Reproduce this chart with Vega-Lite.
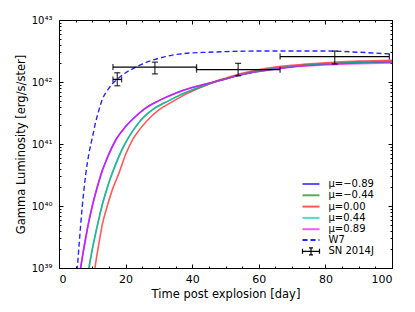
{
  "$schema": "https://vega.github.io/schema/vega-lite/v6.json",
  "width": 333,
  "height": 248,
  "autosize": "none",
  "padding": {"left": 59, "top": 20, "right": 23, "bottom": 44},
  "config": {
    "font": "DejaVu Sans",
    "view": {"stroke": "black", "strokeWidth": 1},
    "axis": {"grid": false, "domain": false, "tickColor": "black", "tickWidth": 1, "labelColor": "black", "titleColor": "black", "titleFontWeight": "normal"},
    "legend": {"labelFontSize": 10, "labelColor": "black", "symbolSize": 100, "rowPadding": 0.3, "labelOffset": 11.5, "title": null}
  },
  "datasets": {
    "curves": [
      {"s": "μ=−0.89", "d": 6, "L": 6.31e38}, {"s": "μ=−0.89", "d": 6.5, "L": 1.0e39}, {"s": "μ=−0.89", "d": 7, "L": 1.48e39}, {"s": "μ=−0.89", "d": 8, "L": 3.02e39}, {"s": "μ=−0.89", "d": 9, "L": 5.75e39}, {"s": "μ=−0.89", "d": 10, "L": 1.0e40}, {"s": "μ=−0.89", "d": 11, "L": 1.62e40}, {"s": "μ=−0.89", "d": 12, "L": 2.51e40}, {"s": "μ=−0.89", "d": 13, "L": 3.72e40}, {"s": "μ=−0.89", "d": 14, "L": 5.13e40}, {"s": "μ=−0.89", "d": 15, "L": 6.92e40}, {"s": "μ=−0.89", "d": 17, "L": 1.15e41}, {"s": "μ=−0.89", "d": 20, "L": 1.91e41}, {"s": "μ=−0.89", "d": 22.5, "L": 2.63e41}, {"s": "μ=−0.89", "d": 25.5, "L": 3.63e41}, {"s": "μ=−0.89", "d": 30, "L": 5.01e41}, {"s": "μ=−0.89", "d": 35, "L": 6.61e41}, {"s": "μ=−0.89", "d": 40, "L": 8.13e41}, {"s": "μ=−0.89", "d": 45, "L": 9.55e41}, {"s": "μ=−0.89", "d": 50, "L": 1.12e42}, {"s": "μ=−0.89", "d": 55, "L": 1.32e42}, {"s": "μ=−0.89", "d": 60, "L": 1.48e42}, {"s": "μ=−0.89", "d": 65, "L": 1.62e42}, {"s": "μ=−0.89", "d": 70, "L": 1.76e42}, {"s": "μ=−0.89", "d": 80, "L": 1.93e42}, {"s": "μ=−0.89", "d": 90, "L": 2.04e42}, {"s": "μ=−0.89", "d": 100, "L": 2.11e42},
      {"s": "μ=−0.44", "d": 8.5, "L": 6.31e38}, {"s": "μ=−0.44", "d": 9, "L": 1.0e39}, {"s": "μ=−0.44", "d": 10, "L": 2.0e39}, {"s": "μ=−0.44", "d": 11, "L": 3.63e39}, {"s": "μ=−0.44", "d": 12, "L": 6.31e39}, {"s": "μ=−0.44", "d": 13, "L": 1.05e40}, {"s": "μ=−0.44", "d": 14, "L": 1.62e40}, {"s": "μ=−0.44", "d": 15, "L": 2.40e40}, {"s": "μ=−0.44", "d": 16, "L": 3.39e40}, {"s": "μ=−0.44", "d": 18, "L": 6.31e40}, {"s": "μ=−0.44", "d": 20, "L": 1.05e41}, {"s": "μ=−0.44", "d": 22, "L": 1.58e41}, {"s": "μ=−0.44", "d": 24.5, "L": 2.40e41}, {"s": "μ=−0.44", "d": 28, "L": 3.55e41}, {"s": "μ=−0.44", "d": 33, "L": 5.01e41}, {"s": "μ=−0.44", "d": 36, "L": 6.03e41}, {"s": "μ=−0.44", "d": 40, "L": 7.41e41}, {"s": "μ=−0.44", "d": 45, "L": 9.33e41}, {"s": "μ=−0.44", "d": 50, "L": 1.12e42}, {"s": "μ=−0.44", "d": 55, "L": 1.32e42}, {"s": "μ=−0.44", "d": 60, "L": 1.51e42}, {"s": "μ=−0.44", "d": 65, "L": 1.66e42}, {"s": "μ=−0.44", "d": 70, "L": 1.78e42}, {"s": "μ=−0.44", "d": 80, "L": 1.95e42}, {"s": "μ=−0.44", "d": 90, "L": 2.07e42}, {"s": "μ=−0.44", "d": 100, "L": 2.14e42},
      {"s": "μ=0.00", "d": 10.3, "L": 6.31e38}, {"s": "μ=0.00", "d": 10.8, "L": 1.0e39}, {"s": "μ=0.00", "d": 12, "L": 2.51e39}, {"s": "μ=0.00", "d": 13, "L": 5.01e39}, {"s": "μ=0.00", "d": 14.5, "L": 1.0e40}, {"s": "μ=0.00", "d": 16, "L": 1.82e40}, {"s": "μ=0.00", "d": 18, "L": 3.39e40}, {"s": "μ=0.00", "d": 20, "L": 6.76e40}, {"s": "μ=0.00", "d": 22.2, "L": 1.20e41}, {"s": "μ=0.00", "d": 24, "L": 1.66e41}, {"s": "μ=0.00", "d": 26.5, "L": 2.40e41}, {"s": "μ=0.00", "d": 30, "L": 3.55e41}, {"s": "μ=0.00", "d": 34, "L": 4.79e41}, {"s": "μ=0.00", "d": 38, "L": 6.31e41}, {"s": "μ=0.00", "d": 42, "L": 7.94e41}, {"s": "μ=0.00", "d": 46, "L": 9.77e41}, {"s": "μ=0.00", "d": 50, "L": 1.15e42}, {"s": "μ=0.00", "d": 55, "L": 1.38e42}, {"s": "μ=0.00", "d": 60, "L": 1.58e42}, {"s": "μ=0.00", "d": 65, "L": 1.74e42}, {"s": "μ=0.00", "d": 70, "L": 1.86e42}, {"s": "μ=0.00", "d": 80, "L": 2.04e42}, {"s": "μ=0.00", "d": 90, "L": 2.17e42}, {"s": "μ=0.00", "d": 100, "L": 2.24e42},
      {"s": "μ=0.44", "d": 8.5, "L": 6.31e38}, {"s": "μ=0.44", "d": 9, "L": 1.0e39}, {"s": "μ=0.44", "d": 10, "L": 2.0e39}, {"s": "μ=0.44", "d": 11, "L": 3.63e39}, {"s": "μ=0.44", "d": 12, "L": 6.31e39}, {"s": "μ=0.44", "d": 13, "L": 1.05e40}, {"s": "μ=0.44", "d": 14, "L": 1.62e40}, {"s": "μ=0.44", "d": 15, "L": 2.40e40}, {"s": "μ=0.44", "d": 16, "L": 3.39e40}, {"s": "μ=0.44", "d": 18, "L": 6.31e40}, {"s": "μ=0.44", "d": 20, "L": 1.05e41}, {"s": "μ=0.44", "d": 22, "L": 1.58e41}, {"s": "μ=0.44", "d": 24.5, "L": 2.40e41}, {"s": "μ=0.44", "d": 28, "L": 3.55e41}, {"s": "μ=0.44", "d": 33, "L": 5.01e41}, {"s": "μ=0.44", "d": 36, "L": 6.03e41}, {"s": "μ=0.44", "d": 40, "L": 7.41e41}, {"s": "μ=0.44", "d": 45, "L": 9.33e41}, {"s": "μ=0.44", "d": 50, "L": 1.12e42}, {"s": "μ=0.44", "d": 55, "L": 1.32e42}, {"s": "μ=0.44", "d": 60, "L": 1.51e42}, {"s": "μ=0.44", "d": 65, "L": 1.66e42}, {"s": "μ=0.44", "d": 70, "L": 1.78e42}, {"s": "μ=0.44", "d": 80, "L": 1.95e42}, {"s": "μ=0.44", "d": 90, "L": 2.07e42}, {"s": "μ=0.44", "d": 100, "L": 2.14e42},
      {"s": "μ=0.89", "d": 6, "L": 6.31e38}, {"s": "μ=0.89", "d": 6.5, "L": 1.0e39}, {"s": "μ=0.89", "d": 7, "L": 1.48e39}, {"s": "μ=0.89", "d": 8, "L": 3.02e39}, {"s": "μ=0.89", "d": 9, "L": 5.75e39}, {"s": "μ=0.89", "d": 10, "L": 1.0e40}, {"s": "μ=0.89", "d": 11, "L": 1.62e40}, {"s": "μ=0.89", "d": 12, "L": 2.51e40}, {"s": "μ=0.89", "d": 13, "L": 3.72e40}, {"s": "μ=0.89", "d": 14, "L": 5.13e40}, {"s": "μ=0.89", "d": 15, "L": 6.92e40}, {"s": "μ=0.89", "d": 17, "L": 1.15e41}, {"s": "μ=0.89", "d": 20, "L": 1.91e41}, {"s": "μ=0.89", "d": 22.5, "L": 2.63e41}, {"s": "μ=0.89", "d": 25.5, "L": 3.63e41}, {"s": "μ=0.89", "d": 30, "L": 5.01e41}, {"s": "μ=0.89", "d": 35, "L": 6.61e41}, {"s": "μ=0.89", "d": 40, "L": 8.13e41}, {"s": "μ=0.89", "d": 45, "L": 9.55e41}, {"s": "μ=0.89", "d": 50, "L": 1.12e42}, {"s": "μ=0.89", "d": 55, "L": 1.32e42}, {"s": "μ=0.89", "d": 60, "L": 1.48e42}, {"s": "μ=0.89", "d": 65, "L": 1.62e42}, {"s": "μ=0.89", "d": 70, "L": 1.74e42}, {"s": "μ=0.89", "d": 80, "L": 1.88e42}, {"s": "μ=0.89", "d": 90, "L": 1.97e42}, {"s": "μ=0.89", "d": 100, "L": 2.02e42},
      {"s": "W7", "d": 5, "L": 5.01e38}, {"s": "W7", "d": 5.5, "L": 1.0e39}, {"s": "W7", "d": 6, "L": 2.24e39}, {"s": "W7", "d": 7, "L": 1.0e40}, {"s": "W7", "d": 8, "L": 3.16e40}, {"s": "W7", "d": 9, "L": 7.08e40}, {"s": "W7", "d": 10, "L": 1.26e41}, {"s": "W7", "d": 11, "L": 2.24e41}, {"s": "W7", "d": 12, "L": 3.55e41}, {"s": "W7", "d": 13, "L": 5.25e41}, {"s": "W7", "d": 14, "L": 6.61e41}, {"s": "W7", "d": 15, "L": 7.94e41}, {"s": "W7", "d": 16, "L": 9.33e41}, {"s": "W7", "d": 18, "L": 1.17e42}, {"s": "W7", "d": 20, "L": 1.41e42}, {"s": "W7", "d": 22, "L": 1.62e42}, {"s": "W7", "d": 25, "L": 1.95e42}, {"s": "W7", "d": 28, "L": 2.24e42}, {"s": "W7", "d": 32, "L": 2.57e42}, {"s": "W7", "d": 36, "L": 2.82e42}, {"s": "W7", "d": 40, "L": 2.95e42}, {"s": "W7", "d": 45, "L": 3.02e42}, {"s": "W7", "d": 50, "L": 3.09e42}, {"s": "W7", "d": 60, "L": 3.16e42}, {"s": "W7", "d": 70, "L": 3.16e42}, {"s": "W7", "d": 80, "L": 3.16e42}, {"s": "W7", "d": 90, "L": 3.02e42}, {"s": "W7", "d": 100, "L": 2.82e42}
    ],
    "obs": [
      {"s": "SN 2014J", "d": 17.5, "dlo": 16.2, "dhi": 18.8, "L": 1.10e42, "Llo": 8.7e41, "Lhi": 1.41e42},
      {"s": "SN 2014J", "d": 28.8, "dlo": 16.2, "dhi": 41.3, "L": 1.74e42, "Llo": 1.35e42, "Lhi": 2.09e42},
      {"s": "SN 2014J", "d": 53.8, "dlo": 41.3, "dhi": 66.4, "L": 1.58e42, "Llo": 1.26e42, "Lhi": 2.0e42},
      {"s": "SN 2014J", "d": 82.8, "dlo": 66.4, "dhi": 99.2, "L": 2.57e42, "Llo": 1.95e42, "Lhi": 3.16e42}
    ]
  },
  "resolve": {"axis": {"x": "independent", "y": "independent"}},
  "layer": [
    {
      "data": {"name": "curves"},
      "transform": [{"filter": "datum.s !== 'W7'"}],
      "mark": {"type": "line", "strokeWidth": 1.6, "opacity": 0.65, "clip": true, "interpolate": "monotone"},
      "encoding": {
        "x": {"field": "d", "type": "quantitative", "scale": {"domain": [0, 100], "nice": false}, "axis": {"orient": "bottom", "values": [0, 20, 40, 60, 80, 100], "tickSize": -4, "labelFontSize": 11, "labelPadding": 9, "title": "Time post explosion [day]", "titleFontSize": 11.5, "titlePadding": 4}},
        "y": {"field": "L", "type": "quantitative", "scale": {"type": "log", "domain": [1e39, 1e43], "nice": false}, "axis": {"orient": "left", "values": [1e39, 1e40, 1e41, 1e42, 1e43], "tickSize": -4, "labelFontSize": 10, "labelPadding": 11, "labelExpr": "datum.value < 5e39 ? '10³⁹' : datum.value < 5e40 ? '10⁴⁰' : datum.value < 5e41 ? '10⁴¹' : datum.value < 5e42 ? '10⁴²' : '10⁴³'", "title": "Gamma Luminosity [erg/s/ster]", "titleFontSize": 11.5, "titlePadding": 5}},
        "color": {"field": "s", "type": "nominal", "sort": null,
          "scale": {"domain": ["μ=−0.89", "μ=−0.44", "μ=0.00", "μ=0.44", "μ=0.89"], "range": ["#0000ff", "#008000", "#ff0000", "#00bfbf", "#ff00ff"]},
          "legend": {"orient": "none", "legendX": 246, "legendY": 158, "symbolType": "M-1.7,0H1.7", "symbolStrokeWidth": 2, "symbolOpacity": 0.65}
        }
      }
    },
    {
      "data": {"name": "curves"},
      "transform": [{"filter": "datum.s === 'W7'"}],
      "mark": {"type": "line", "strokeWidth": 1.4, "color": "#0000ff", "opacity": 0.85, "clip": true, "interpolate": "monotone"},
      "encoding": {
        "x": {"field": "d", "type": "quantitative", "axis": {"orient": "bottom", "values": [5, 10, 15, 25, 30, 35, 45, 50, 55, 65, 70, 75, 85, 90, 95], "tickSize": -2, "labels": false, "title": null}},
        "y": {"field": "L", "type": "quantitative", "axis": {"orient": "left", "values": [2e39, 3e39, 4e39, 5e39, 6e39, 7e39, 8e39, 9e39, 2e40, 3e40, 4e40, 5e40, 6e40, 7e40, 8e40, 9e40, 2e41, 3e41, 4e41, 5e41, 6e41, 7e41, 8e41, 9e41, 2e42, 3e42, 4e42, 5e42, 6e42, 7e42, 8e42, 9e42], "tickSize": -2, "labels": false, "title": null}},
        "strokeDash": {"field": "s", "type": "nominal", "scale": {"domain": ["W7"], "range": [[5, 3]]},
          "legend": {"orient": "none", "legendX": 246, "legendY": 214, "symbolType": "M-1.7,0H1.7", "symbolStrokeWidth": 2, "symbolStrokeColor": "#0000ff", "symbolOpacity": 0.85, "symbolDash": [6, 5]}
        }
      }
    },
    {
      "data": {"name": "obs"},
      "mark": {"type": "rule", "strokeWidth": 1.3, "color": "black"},
      "encoding": {
        "x": {"field": "dlo", "type": "quantitative", "axis": {"orient": "top", "values": [0, 20, 40, 60, 80, 100], "tickSize": -4, "labels": false, "title": null}},
        "x2": {"field": "dhi"},
        "y": {"field": "L", "type": "quantitative", "axis": {"orient": "right", "values": [1e39, 1e40, 1e41, 1e42, 1e43], "tickSize": -4, "labels": false, "title": null}},
        "opacity": {"field": "s", "type": "nominal", "scale": {"domain": ["SN 2014J"], "range": [0.75]},
          "legend": {"orient": "none", "legendX": 246, "legendY": 225.3, "symbolType": "M-1.7,0H1.7M-1.7,-0.5V0.5M1.7,-0.5V0.5M0,-0.7V0.7M-0.4,-0.7H0.4M-0.4,0.7H0.4", "symbolStrokeWidth": 1.2, "symbolStrokeColor": "black", "symbolFillColor": "transparent", "symbolOpacity": 0.75}
        }
      }
    },
    {
      "data": {"name": "obs"},
      "mark": {"type": "errorbar", "thickness": 1.3, "color": "black", "opacity": 0.75, "ticks": {"size": 6}},
      "encoding": {
        "x": {"field": "d", "type": "quantitative", "axis": {"orient": "top", "values": [5, 10, 15, 25, 30, 35, 45, 50, 55, 65, 70, 75, 85, 90, 95], "tickSize": -2, "labels": false, "title": null}},
        "y": {"field": "Llo", "type": "quantitative", "axis": {"orient": "right", "values": [2e39, 3e39, 4e39, 5e39, 6e39, 7e39, 8e39, 9e39, 2e40, 3e40, 4e40, 5e40, 6e40, 7e40, 8e40, 9e40, 2e41, 3e41, 4e41, 5e41, 6e41, 7e41, 8e41, 9e41, 2e42, 3e42, 4e42, 5e42, 6e42, 7e42, 8e42, 9e42], "tickSize": -2, "labels": false, "title": null}},
        "y2": {"field": "Lhi"}
      }
    },
    {
      "data": {"name": "obs"},
      "mark": {"type": "tick", "orient": "vertical", "size": 6, "thickness": 1.3, "color": "black", "opacity": 0.75},
      "encoding": {
        "x": {"field": "dlo", "type": "quantitative", "axis": null},
        "y": {"field": "L", "type": "quantitative", "axis": null}
      }
    },
    {
      "data": {"name": "obs"},
      "mark": {"type": "tick", "orient": "vertical", "size": 6, "thickness": 1.3, "color": "black", "opacity": 0.75},
      "encoding": {
        "x": {"field": "dhi", "type": "quantitative", "axis": null},
        "y": {"field": "L", "type": "quantitative", "axis": null}
      }
    }
  ]
}
